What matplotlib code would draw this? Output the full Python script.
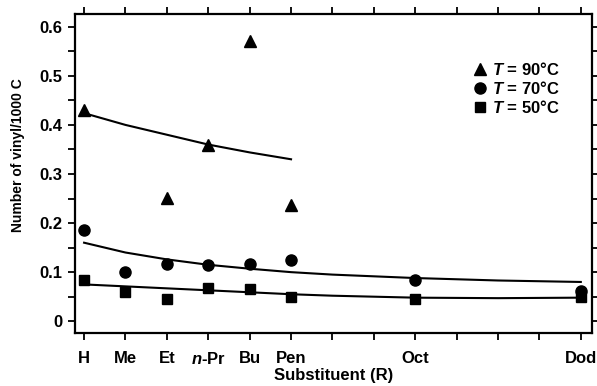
import matplotlib
matplotlib.use("Agg")
import matplotlib.pyplot as plt
from matplotlib.ticker import MultipleLocator
from matplotlib import font_manager

plt.rcParams['font.family'] = ['Liberation Sans', 'DejaVu Sans']
plt.rcParams['font.weight'] = 'bold'
plt.rcParams['mathtext.fontset'] = 'custom'
plt.rcParams['mathtext.it'] = 'Liberation Sans:italic:bold'
plt.rcParams['mathtext.rm'] = 'Liberation Sans:bold'

# Substituent positions (carbon number) and labels
x_pos = [0, 1, 2, 3, 4, 5, 8, 12]
x_labels = ['H', 'Me', 'Et', '$n$-Pr', 'Bu', 'Pen', 'Oct', 'Dod']
y_ticks = [0, 0.1, 0.2, 0.3, 0.4, 0.5, 0.6]
y_labels = ['0', '0.1', '0.2', '0.3', '0.4', '0.5', '0.6']

# Measured data
x90 = [0, 2, 3, 4, 5]
y90 = [0.43, 0.252, 0.36, 0.572, 0.237]
x70 = [0, 1, 2, 3, 4, 5, 8, 12]
y70 = [0.185, 0.100, 0.117, 0.115, 0.116, 0.125, 0.085, 0.062]
x50 = [0, 1, 2, 3, 4, 5, 8, 12]
y50 = [0.085, 0.060, 0.045, 0.068, 0.065, 0.050, 0.045, 0.050]

# Fit curves
fx90 = [0, 1, 2, 3, 4, 5]
fy90 = [0.424, 0.400, 0.380, 0.360, 0.344, 0.330]
fx70 = [0, 1, 2, 3, 4, 5, 6, 8, 10, 12]
fy70 = [0.160, 0.140, 0.126, 0.115, 0.107, 0.100, 0.095, 0.088, 0.083, 0.080]
fx50 = [0, 1, 2, 3, 4, 5, 6, 8, 10, 12]
fy50 = [0.075, 0.071, 0.067, 0.063, 0.059, 0.055, 0.052, 0.048, 0.047, 0.048]

names = {f.name for f in font_manager.fontManager.ttflist}
if 'Liberation Sans Narrow' in names:
    ylab_family, ylab_size = 'Liberation Sans Narrow', 12
else:
    ylab_family, ylab_size = 'Liberation Sans', 10

fig = plt.figure(figsize=(5.97, 3.86), dpi=100)
ax = fig.add_axes([0.1256, 0.1373, 0.866, 0.8264])

ax.plot(fx90, fy90, color='black', lw=1.5)
ax.plot(fx70, fy70, color='black', lw=1.5)
ax.plot(fx50, fy50, color='black', lw=1.5)

ax.plot(x90, y90, '^', color='black', ms=8, ls='none', label='$T$ = 90°C')
ax.plot(x70, y70, 'o', color='black', ms=8, ls='none', label='$T$ = 70°C')
ax.plot(x50, y50, 's', color='black', ms=7.5, ls='none', label='$T$ = 50°C')

ax.set_xlim(-0.22, 12.27)
ax.set_ylim(-0.024, 0.626)

ax.set_xticks(x_pos)
ax.set_xticklabels(x_labels)
ax.xaxis.set_minor_locator(MultipleLocator(1))
ax.set_yticks(y_ticks)
ax.set_yticklabels(y_labels)
ax.yaxis.set_minor_locator(MultipleLocator(0.05))

ax.tick_params(axis='both', which='both', direction='out', width=1.3,
               length=5, labelsize=12)
ax.tick_params(axis='x', which='both', top=True, pad=8)
ax.tick_params(axis='y', which='both', right=True, pad=4)
for s in ax.spines.values():
    s.set_linewidth(1.6)

ax.set_xlabel('Substituent (R)', fontsize=12, fontweight='bold', labelpad=1)
ax.set_ylabel('Number of vinyl/1000 C', fontsize=ylab_size, fontweight='bold',
              family=[ylab_family, 'Liberation Sans'])
ax.yaxis.set_label_coords(-0.097, 0.558)

leg = ax.legend(loc='upper right', bbox_to_anchor=(0.95, 0.875), frameon=False,
                fontsize=12, handletextpad=0.2, labelspacing=0.12, handlelength=1.0,
                borderaxespad=0)
for t in leg.get_texts():
    t.set_fontweight('bold')

fig.savefig('out.png', dpi=100)
